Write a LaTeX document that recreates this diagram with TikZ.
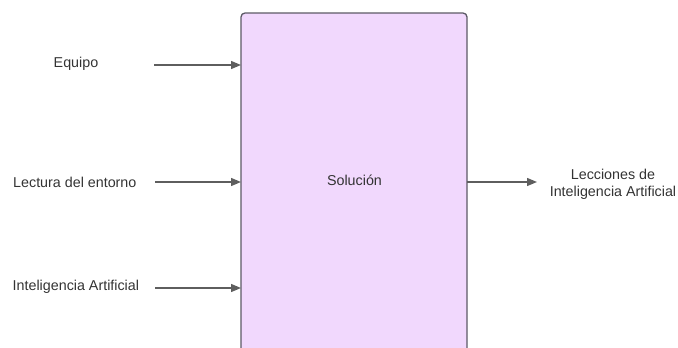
\documentclass[tikz,border=0pt]{standalone}
\usepackage{fontspec}
\setmainfont{Liberation Sans}
\usetikzlibrary{arrows.meta}
\definecolor{boxfill}{HTML}{F1D8FD}
\definecolor{boxline}{HTML}{5C5A66}
\definecolor{arrowgrey}{HTML}{5E5E5E}
\definecolor{textgrey}{HTML}{333333}
\tikzset{
  label text/.style={font=\fontsize{14.3}{17}\selectfont, text=textgrey, inner sep=0pt},
  flow/.style={draw=arrowgrey, line width=1.3pt, -{Triangle[length=10pt, width=8pt]}},
}
\begin{document}
\begin{tikzpicture}[x=1pt, y=-1pt]
  \useasboundingbox (0,0) rectangle (678,348);
  % process box, cut off at the bottom edge
  \begin{scope}
    \clip (0,0) rectangle (678,348);
    \draw[boxline, fill=boxfill, line width=1.3pt, rounded corners=4pt]
      (241,360) -- (241,13) -- (467,13) -- (467,360);
  \end{scope}
  \coordinate (boxW1) at (241,65);
  \coordinate (boxW2) at (241,182);
  \coordinate (boxW3) at (241,288);
  \coordinate (boxE) at (467,182);

  \node[label text] (sol) at (354.5,180) {Solución};

  \node[label text] (equipo) at (76,63.5) {Equipo};
  \node[label text, anchor=west] (lectura) at (13,182) {Lectura del entorno};
  \node[label text, anchor=west] (ia) at (12.5,287) {Inteligencia Artificial};
  \node[label text, align=center] (lecc) at (613,184) {Lecciones de\\Inteligencia Artificial};

  \coordinate (s1) at (154,65);
  \coordinate (s2) at (155,182);
  \coordinate (s3) at (155,288);
  \coordinate (e4) at (537,182);

  \draw[flow] (s1) -- (boxW1);
  \draw[flow] (s2) -- (boxW2);
  \draw[flow] (s3) -- (boxW3);
  \draw[flow] (boxE) -- (e4);
\end{tikzpicture}
\end{document}
